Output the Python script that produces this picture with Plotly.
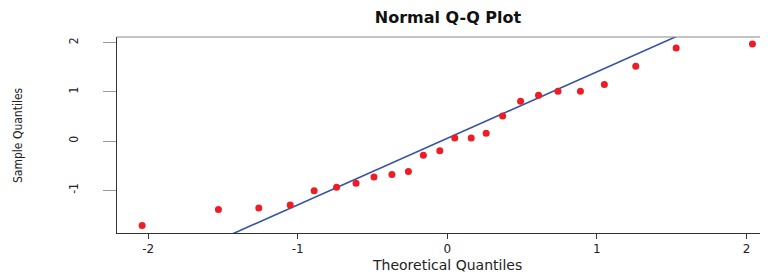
import plotly.graph_objects as go

# Theoretical quantiles (x) and sample quantiles (y)
theoretical = [-2.04, -1.53, -1.26, -1.05, -0.89, -0.74, -0.61, -0.49, -0.37, -0.26,
               -0.16, -0.05, 0.05, 0.16, 0.26, 0.37, 0.49, 0.61, 0.74, 0.89,
               1.05, 1.26, 1.53, 2.04]
sample = [-1.72, -1.39, -1.36, -1.30, -1.01, -0.94, -0.86, -0.73, -0.68, -0.62,
          -0.29, -0.20, 0.06, 0.06, 0.16, 0.51, 0.81, 0.93, 1.01, 1.01,
          1.15, 1.52, 1.89, 1.97]

# Reference line (qqline) parameters
line_intercept = 0.054
line_slope = 1.352
line_x = [-2.6, 2.6]
line_y = [line_intercept + line_slope * v for v in line_x]

x_ticks = [-2, -1, 0, 1, 2]
y_ticks = [-1, 0, 1, 2]

# page body has an 8px offset; compensate
OFF = 8
W, H = 768 - OFF, 275 - OFF
L, T, B = 117 - OFF, 37 - OFF, 275 - 233

fig = go.Figure()
fig.add_trace(go.Scatter(x=line_x, y=line_y, mode="lines",
                         line=dict(color="#3553a6", width=1.6),
                         hoverinfo="skip", showlegend=False))
fig.add_trace(go.Scatter(x=theoretical, y=sample, mode="markers",
                         marker=dict(color="#ee1c25", size=7, line=dict(width=0)),
                         showlegend=False))

cond = "DejaVu Sans Condensed, Liberation Sans, Arial, sans-serif"

fig.update_layout(
    width=W, height=H,
    margin=dict(l=L, r=0, t=T, b=B),
    paper_bgcolor="white", plot_bgcolor="white",
    title=dict(text="<b>Normal Q-Q Plot</b>", x=(448 - OFF) / W, xanchor="center", xref="container",
               y=1 - (17 - OFF) / H, yanchor="middle", yref="container",
               font=dict(family="DejaVu Sans", size=16, color="#111")),
    xaxis=dict(range=[-2.208, 2.144], tickvals=x_ticks, ticktext=[str(v) for v in x_ticks],
               showgrid=False, zeroline=False, showline=True, linecolor="#333", linewidth=1,
               ticks="outside", ticklen=5, tickcolor="#333", tickwidth=1,
               tickfont=dict(family="DejaVu Sans", size=12, color="#222")),
    yaxis=dict(range=[-1.870, 2.114], tickvals=y_ticks, ticktext=[str(v) for v in y_ticks],
               showgrid=False, zeroline=False, showline=True, linecolor="#333", linewidth=1,
               ticks="outside", ticklen=13, tickcolor="#999", tickwidth=1,
               tickangle=-90, ticklabelstandoff=20,
               tickfont=dict(family=cond, size=12, color="#222")),
    shapes=[dict(type="line", xref="paper", yref="paper", x0=0, x1=1, y0=1, y1=1,
                 line=dict(color="#888", width=1))],
    annotations=[
        dict(text="Theoretical Quantiles", xref="paper", yref="paper",
             x=(447 - 117) / 651, y=(233 - 265) / 196, xanchor="center", yanchor="middle",
             showarrow=False, font=dict(family="DejaVu Sans", size=14, color="#222")),
        dict(text="Sample Quantiles", xref="paper", yref="paper",
             x=(18 - 117) / 651, y=0.5, xanchor="center", yanchor="middle", textangle=-90,
             showarrow=False, font=dict(family=cond, size=12, color="#222")),
    ],
)

fig.write_html("out.html")
